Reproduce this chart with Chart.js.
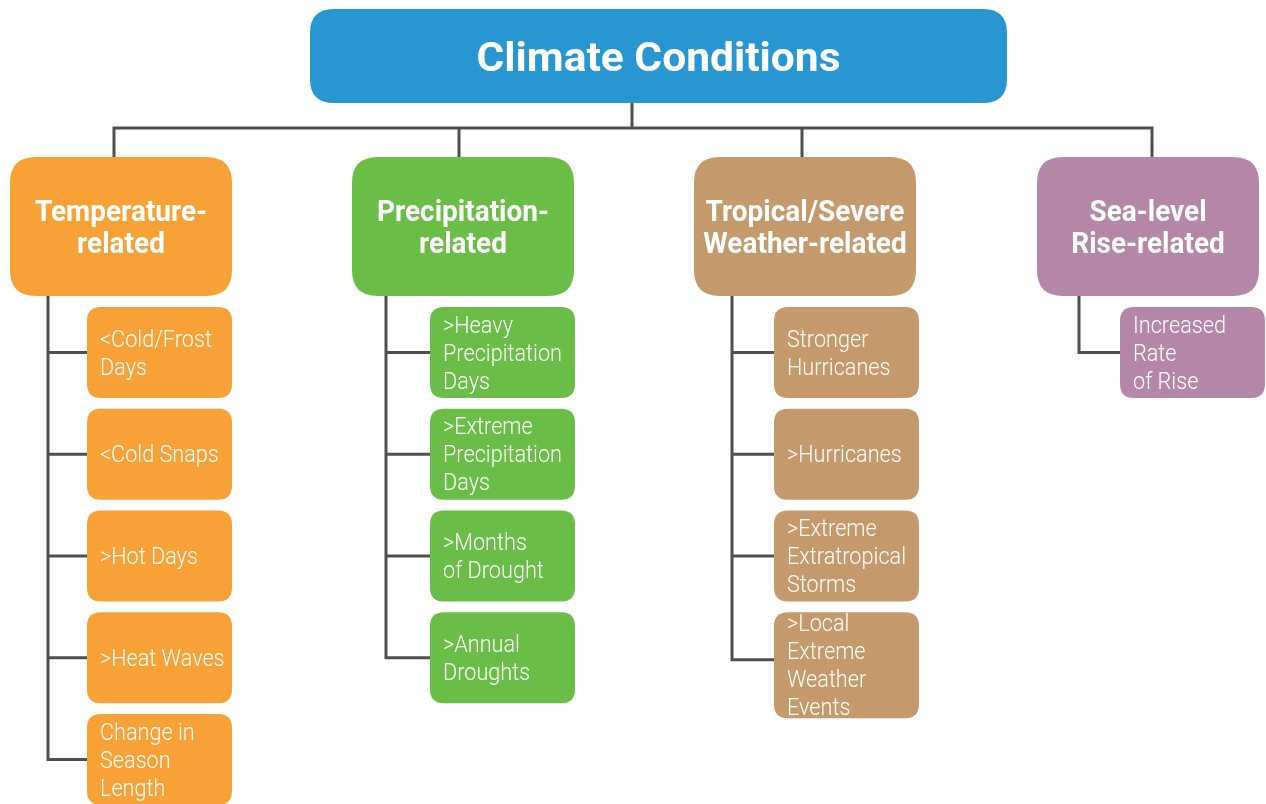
<!DOCTYPE html>
<html><head><meta charset="utf-8">
<script src="https://cdn.jsdelivr.net/npm/chart.js@4.4.1/dist/chart.umd.min.js"></script>
<style>html,body{margin:0;padding:0;background:#fff;overflow:hidden}#wrap{width:1266px;height:804px}</style>
</head><body><div id="wrap"><canvas id="c" width="1266" height="804"></canvas></div>
<script>
// ---- content ----
const rootLabel = 'Climate Conditions';
const categoryLabels = ['Temperature-\nrelated', 'Precipitation-\nrelated', 'Tropical/Severe\nWeather-related', 'Sea-level\nRise-related'];
const temperatureItems = ['<Cold/Frost\nDays', '<Cold Snaps', '>Hot Days', '>Heat Waves', 'Change in\nSeason\nLength'];
const precipitationItems = ['>Heavy\nPrecipitation\nDays', '>Extreme\nPrecipitation\nDays', '>Months\nof Drought', '>Annual\nDroughts'];
const tropicalItems = ['Stronger\nHurricanes', '>Hurricanes', '>Extreme\nExtratropical\nStorms', '>Local\nExtreme\nWeather\nEvents'];
const seaLevelItems = ['Increased\nRate\nof Rise'];
const childLists = [temperatureItems, precipitationItems, tropicalItems, seaLevelItems];

// ---- styles ----
const rootColor = '#2896d1';
const categoryColors = ['#f7a136', '#6abd46', '#c4996b', '#b487a8'];
const lineColor = '#4f4f4f';
const FONT = 'Roboto, "Liberation Sans", sans-serif';
// condensed look: horizontal squeeze calibrated on a sample string width
const textStyles = {
  root:  {size: 41, lh: 48, weight: 'bold', sample: 'Climate Conditions', sampleW: 364},
  cat:   {size: 30, lh: 32, weight: 'bold', sample: 'Precipitation-',     sampleW: 172},
  child: {size: 23, lh: 28, weight: '300',  sample: 'Precipitation',      sampleW: 119}
};

// ---- layout (pixel units of the hidden linear scales) ----
const L = {
  root: {x: 310, y: 9, w: 697, h: 94, r: 24},
  stemX: 632,
  barY: 128,
  dropX: [114, 459, 802, 1152],
  catLeft: [10, 352, 694, 1037], catTop: 157, catW: 222, catH: 139, catR: 26,
  childLeft: [87, 430, 774, 1120], childW: 145, childTop: 307, childStep: 101.75, childH: 91, childR: 14,
  trunkX: [48, 386, 732, 1079],
  tallLast: {col: 2, h: 106}
};

function childBox(c, j) {
  const n = childLists[c].length;
  let h = L.childH;
  if (c === L.tallLast.col && j === n - 1) h = L.tallLast.h;
  return {x: L.childLeft[c], y: L.childTop + j * L.childStep, w: L.childW, h: h};
}

const nodes = [];
nodes.push({x: L.root.x + L.root.w / 2, y: L.root.y + L.root.h / 2, kind: 'root', label: rootLabel, col: -1, box: L.root});
categoryLabels.forEach((lab, c) => {
  const b = {x: L.catLeft[c], y: L.catTop, w: L.catW, h: L.catH};
  nodes.push({x: b.x + b.w / 2, y: b.y + b.h / 2, kind: 'cat', label: lab, col: c, box: b});
});
childLists.forEach((list, c) => list.forEach((lab, j) => {
  const b = childBox(c, j);
  nodes.push({x: b.x + b.w / 2, y: b.y + b.h / 2, kind: 'child', label: lab, col: c, row: j, box: b});
}));

function rr(ctx, x, y, w, h, r) {
  ctx.beginPath();
  ctx.moveTo(x + r, y);
  ctx.lineTo(x + w - r, y); ctx.quadraticCurveTo(x + w, y, x + w, y + r);
  ctx.lineTo(x + w, y + h - r); ctx.quadraticCurveTo(x + w, y + h, x + w - r, y + h);
  ctx.lineTo(x + r, y + h); ctx.quadraticCurveTo(x, y + h, x, y + h - r);
  ctx.lineTo(x, y + r); ctx.quadraticCurveTo(x, y, x + r, y);
  ctx.closePath();
}

const treePlugin = {
  id: 'tree',
  afterDatasetsDraw(chart) {
    const ctx = chart.ctx, sx = chart.scales.x, sy = chart.scales.y;
    const X = v => sx.getPixelForValue(v), Y = v => sy.getPixelForValue(v);
    ctx.save();
    // connectors
    ctx.strokeStyle = lineColor; ctx.lineWidth = 3; ctx.lineCap = 'butt';
    ctx.beginPath();
    ctx.moveTo(X(L.stemX), Y(L.root.y + L.root.h)); ctx.lineTo(X(L.stemX), Y(L.barY));
    ctx.moveTo(X(L.dropX[0]) - 1.5, Y(L.barY)); ctx.lineTo(X(L.dropX[3]) + 1.5, Y(L.barY));
    L.dropX.forEach(dx => { ctx.moveTo(X(dx), Y(L.barY)); ctx.lineTo(X(dx), Y(L.catTop)); });
    childLists.forEach((list, c) => {
      const tx = L.trunkX[c];
      let lastY = 0;
      list.forEach((lab, j) => {
        const b = childBox(c, j);
        const cy = (c === L.tallLast.col && j === list.length - 1) ? b.y + L.childH / 2 + 2 : b.y + b.h / 2;
        ctx.moveTo(X(tx) - 1.5, Y(cy)); ctx.lineTo(X(b.x), Y(cy));
        lastY = cy;
      });
      ctx.moveTo(X(tx), Y(L.catTop + L.catH)); ctx.lineTo(X(tx), Y(lastY) + 1.5);
    });
    ctx.stroke();

    // squeeze factors
    const squeeze = {};
    Object.keys(textStyles).forEach(k => {
      const s = textStyles[k];
      ctx.font = s.weight + ' ' + s.size + 'px ' + FONT;
      squeeze[k] = s.sampleW / ctx.measureText(s.sample).width;
    });

    const meta = chart.getDatasetMeta(0);
    meta.data.forEach((pt, i) => {
      const n = nodes[i], b = n.box;
      const x0 = X(b.x), y0 = Y(b.y), w = X(b.x + b.w) - x0, h = Y(b.y + b.h) - y0;
      const r = n.kind === 'child' ? L.childR : (n.kind === 'cat' ? L.catR : L.root.r);
      ctx.fillStyle = n.kind === 'root' ? rootColor : categoryColors[n.col];
      rr(ctx, x0, y0, w, h, r); ctx.fill();
      ctx.fillStyle = '#ffffff';
      const s = textStyles[n.kind];
      const lines = n.label.split('\n');
      const align = n.kind === 'child' ? 'left' : 'center';
      const tx = n.kind === 'child' ? x0 + 13 : pt.x;
      ctx.font = s.weight + ' ' + s.size + 'px ' + FONT;
      ctx.textAlign = align; ctx.textBaseline = 'alphabetic';
      const cap = s.size * 0.711;
      const total = (lines.length - 1) * s.lh;
      lines.forEach((ln, k) => {
        const base = pt.y - total / 2 + k * s.lh + cap / 2;
        ctx.save();
        ctx.translate(tx, base);
        ctx.scale(squeeze[n.kind], 1);
        ctx.fillText(ln, 0, 0);
        ctx.restore();
      });
    });
    ctx.restore();
  }
};

new Chart(document.getElementById('c'), {
  type: 'scatter',
  data: {datasets: [{data: nodes.map(n => ({x: n.x, y: n.y})), pointRadius: 0, pointHoverRadius: 0}]},
  options: {
    responsive: false, animation: false, events: [],
    layout: {padding: 0},
    plugins: {legend: {display: false}, tooltip: {enabled: false}},
    scales: {
      x: {type: 'linear', min: 0, max: 1266, display: false},
      y: {type: 'linear', min: 0, max: 804, reverse: true, display: false}
    }
  },
  plugins: [treePlugin]
});
</script>
</body></html>
